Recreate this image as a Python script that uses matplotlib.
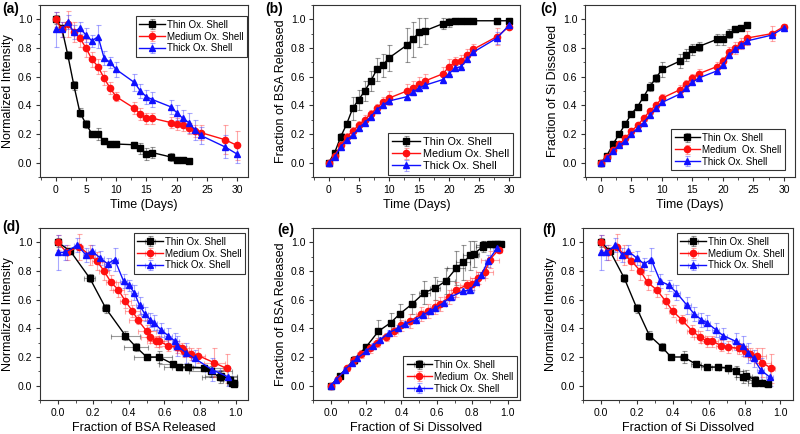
import matplotlib
matplotlib.use("Agg")
import matplotlib.pyplot as plt
from matplotlib.ticker import AutoMinorLocator

plt.rcParams["font.family"] = ["Liberation Sans", "DejaVu Sans"]

# 측정 시점 (days)
days = [0, 1, 2, 3, 4, 5, 6, 7, 8, 9, 10, 13, 14, 15, 16, 19, 20, 21, 22, 23, 24, 28, 30]

# Normalized intensity (thin stops at day 22)
int_thin = [1.00, 0.94, 0.75, 0.54, 0.35, 0.27, 0.20, 0.20, 0.15, 0.13, 0.13, 0.125, 0.10, 0.06, 0.07,
            0.04, 0.02, 0.02, 0.01]
int_med = [1.00, 0.93, 0.97, 0.91, 0.87, 0.80, 0.72, 0.67, 0.59, 0.52, 0.46, 0.38, 0.34, 0.31, 0.31,
           0.28, 0.27, 0.26, 0.24, 0.22, 0.21, 0.16, 0.12]
int_thick = [0.93, 0.93, 0.98, 0.91, 0.94, 0.89, 0.85, 0.88, 0.73, 0.70, 0.65, 0.56, 0.50, 0.46, 0.44,
             0.39, 0.35, 0.31, 0.28, 0.23, 0.19, 0.11, 0.06]
int_thin_err = [0.03, 0.02, 0.03, 0.03, 0.03, 0.03, 0.02, 0.04, 0.02, 0.02, 0.02, 0.02, 0.04, 0.04, 0.04,
                0.03, 0.02, 0.02, 0.01]
int_med_err = [0.05, 0.05, 0.09, 0.07, 0.06, 0.06, 0.05, 0.05, 0.05, 0.04, 0.03, 0.04, 0.04, 0.04, 0.04,
               0.04, 0.04, 0.04, 0.04, 0.04, 0.05, 0.10, 0.10]
int_thick_err = [0.12, 0.05, 0.05, 0.05, 0.04, 0.05, 0.04, 0.08, 0.05, 0.04, 0.05, 0.06, 0.05, 0.05, 0.05,
                 0.05, 0.05, 0.06, 0.07, 0.07, 0.06, 0.08, 0.06]

# Fraction of BSA released
bsa_thin = [0.00, 0.07, 0.18, 0.27, 0.38, 0.44, 0.50, 0.57, 0.65, 0.68, 0.73, 0.82, 0.86, 0.91, 0.92,
            0.97, 0.98, 0.99, 0.99, 0.99, 0.99, 0.99, 0.99]
bsa_med = [0.00, 0.05, 0.12, 0.18, 0.22, 0.26, 0.30, 0.34, 0.38, 0.42, 0.45, 0.50, 0.52, 0.55, 0.57,
           0.62, 0.67, 0.70, 0.71, 0.75, 0.79, 0.88, 0.95]
bsa_thick = [0.00, 0.04, 0.11, 0.16, 0.19, 0.24, 0.28, 0.32, 0.37, 0.40, 0.43, 0.46, 0.49, 0.52, 0.54,
             0.58, 0.62, 0.66, 0.67, 0.72, 0.77, 0.87, 0.96]
bsa_thin_err = [0.00, 0.01, 0.03, 0.02, 0.08, 0.07, 0.07, 0.07, 0.08, 0.08, 0.09, 0.12, 0.12, 0.10, 0.09,
                0.04, 0.03, 0.02, 0.01, 0.01, 0.01, 0.02, 0.02]
bsa_med_err = [0.00, 0.02, 0.02, 0.03, 0.03, 0.03, 0.03, 0.03, 0.03, 0.04, 0.05, 0.05, 0.05, 0.05, 0.05,
               0.05, 0.05, 0.04, 0.04, 0.04, 0.04, 0.06, 0.02]
bsa_thick_err = [0.00, 0.01, 0.02, 0.02, 0.02, 0.02, 0.02, 0.02, 0.02, 0.02, 0.02, 0.02, 0.02, 0.02, 0.02,
                 0.02, 0.02, 0.02, 0.02, 0.02, 0.02, 0.04, 0.02]

# Fraction of Si dissolved (thin stops at day 24)
si_thin = [0.00, 0.05, 0.13, 0.20, 0.27, 0.34, 0.39, 0.46, 0.53, 0.59, 0.65, 0.71, 0.75, 0.79, 0.81,
           0.86, 0.86, 0.90, 0.93, 0.94, 0.96]
si_med = [0.00, 0.04, 0.09, 0.13, 0.17, 0.22, 0.26, 0.31, 0.36, 0.40, 0.45, 0.51, 0.55, 0.59, 0.62,
          0.67, 0.71, 0.77, 0.80, 0.83, 0.87, 0.90, 0.95]
si_thick = [0.00, 0.03, 0.08, 0.12, 0.15, 0.20, 0.24, 0.28, 0.33, 0.38, 0.42, 0.48, 0.52, 0.56, 0.59,
            0.64, 0.68, 0.75, 0.79, 0.82, 0.85, 0.89, 0.94]
si_thin_err = [0.00, 0.01, 0.01, 0.01, 0.01, 0.01, 0.01, 0.02, 0.03, 0.03, 0.05, 0.05, 0.04, 0.04, 0.03,
               0.04, 0.04, 0.03, 0.02, 0.01, 0.01]
si_med_err = [0.00, 0.01, 0.01, 0.02, 0.02, 0.02, 0.02, 0.02, 0.02, 0.02, 0.03, 0.03, 0.03, 0.03, 0.03,
              0.03, 0.03, 0.04, 0.04, 0.04, 0.05, 0.05, 0.02]
si_thick_err = [0.00, 0.01, 0.01, 0.01, 0.01, 0.01, 0.01, 0.01, 0.01, 0.02, 0.02, 0.02, 0.02, 0.02, 0.02,
                0.02, 0.02, 0.02, 0.02, 0.02, 0.02, 0.02, 0.02]

STYLES = [("Thin Ox. Shell", "black", "s", (0, 0, 0, 0.4)),
          ("Medium Ox. Shell", "#ff1010", "o", (1, 0.25, 0.25, 0.45)),
          ("Thick Ox. Shell", "#1010ff", "^", (0.25, 0.25, 1, 0.45))]

fig = plt.figure(figsize=(8.0, 4.34), dpi=100)
W, H = 800.0, 434.0


def add_axes(l, r, t, b):
    return fig.add_axes([l / W, 1 - b / H, (r - l) / W, (b - t) / H])


def draw(ax, series, xlim, xticks, xlabel, ylabel, loc, anchor, med_label=None, leg_fs=7):
    for i, (x, y, xe, ye) in enumerate(series):
        label, color, marker, ecol = STYLES[i]
        if i == 1 and med_label:
            label = med_label
        n = len(y)
        ax.errorbar(x[:n], y, yerr=ye, xerr=None if xe is None else xe[:n],
                    color=color, marker=marker, ms=4.5, lw=1.0, label=label,
                    ecolor=ecol, elinewidth=0.8, capsize=1.8, capthick=0.8)
    ax.set_xlim(*xlim)
    ax.set_ylim(-0.1, 1.1)
    ax.set_xticks(xticks)
    ax.set_yticks([0.0, 0.2, 0.4, 0.6, 0.8, 1.0])
    ax.xaxis.set_minor_locator(AutoMinorLocator(2))
    ax.yaxis.set_minor_locator(AutoMinorLocator(2))
    ax.tick_params(which="both", direction="out", labelsize=7.5, color="#333333")
    ax.tick_params(which="major", length=3, pad=2.5)
    ax.tick_params(which="minor", length=1.8)
    for s in ax.spines.values():
        s.set_color("#333333")
    ax.set_xlabel(xlabel, fontsize=9, labelpad=3)
    ax.set_ylabel(ylabel, fontsize=9, labelpad=3)
    leg = ax.legend(loc=loc, bbox_to_anchor=anchor, fontsize=leg_fs, frameon=True, fancybox=False,
                    edgecolor="black", handlelength=2.6, handletextpad=0.25, borderpad=0.35,
                    labelspacing=0.2, borderaxespad=0.0)
    leg.get_frame().set_linewidth(0.8)


ax_a = add_axes(40, 248, 5, 177)
ax_b = add_axes(313, 520, 5, 177)
ax_c = add_axes(585, 795, 5, 177)
ax_d = add_axes(40, 248, 228, 400)
ax_e = add_axes(313, 520, 228, 400)
ax_f = add_axes(583, 793, 228, 400)

t_lim = (-2.6, 31.8)
t_ticks = [0, 5, 10, 15, 20, 25, 30]
f_lim = (-0.1, 1.07)
f_ticks = [0.0, 0.2, 0.4, 0.6, 0.8, 1.0]

draw(ax_a, [(days, int_thin, None, int_thin_err), (days, int_med, None, int_med_err),
            (days, int_thick, None, int_thick_err)],
     t_lim, t_ticks, "Time (Days)", "Normalized Intensity", "upper right", (0.995, 0.935))
draw(ax_b, [(days, bsa_thin, None, bsa_thin_err), (days, bsa_med, None, bsa_med_err),
            (days, bsa_thick, None, bsa_thick_err)],
     t_lim, t_ticks, "Time (Days)", "Fraction of BSA Released", "lower right", (0.966, 0.012),
     leg_fs=7.8)
draw(ax_c, [(days, si_thin, None, si_thin_err), (days, si_med, None, si_med_err),
            (days, si_thick, None, si_thick_err)],
     t_lim, t_ticks, "Time (Days)", "Fraction of Si Dissolved", "lower right", (0.952, 0.04),
     med_label="Medium  Ox. Shell")
draw(ax_d, [(bsa_thin, int_thin, bsa_thin_err, int_thin_err), (bsa_med, int_med, bsa_med_err, int_med_err),
            (bsa_thick, int_thick, bsa_thick_err, int_thick_err)],
     f_lim, f_ticks, "Fraction of BSA Released", "Normalized Intensity", "upper right", (0.986, 0.97))
draw(ax_e, [(si_thin, bsa_thin[:len(si_thin)], si_thin_err, bsa_thin_err[:len(si_thin)]),
            (si_med, bsa_med, si_med_err, bsa_med_err),
            (si_thick, bsa_thick, si_thick_err, bsa_thick_err)],
     f_lim, f_ticks, "Fraction of Si Dissolved", "Fraction of BSA Released", "lower right", (0.985, 0.017),
     med_label="Medium  Ox. Shell")
draw(ax_f, [(si_thin, int_thin, si_thin_err, int_thin_err), (si_med, int_med, si_med_err, int_med_err),
            (si_thick, int_thick, si_thick_err, int_thick_err)],
     f_lim, f_ticks, "Fraction of Si Dissolved", "Normalized Intensity", "upper right", (0.976, 0.97))

# 패널 태그
for tag, px, py in [("(a)", 2, 2), ("(b)", 265, 2), ("(c)", 540, 2),
                    ("(d)", 2, 220), ("(e)", 277, 223), ("(f)", 542, 223)]:
    fig.text(px / W, 1 - py / H, tag, fontsize=10, fontweight="bold", ha="left", va="top")

fig.savefig("out.png", dpi=100)
